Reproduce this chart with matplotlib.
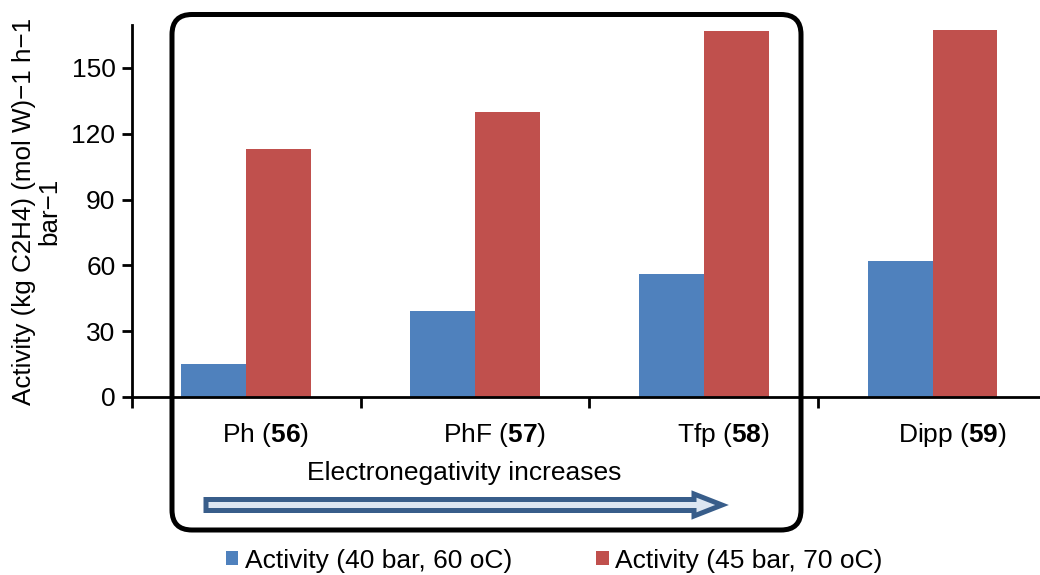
import matplotlib
matplotlib.use("Agg")
import matplotlib.pyplot as plt
from matplotlib.patches import FancyBboxPatch, FancyArrow
import numpy as np

plt.rcParams["font.family"] = ["Liberation Sans", "DejaVu Sans"]
plt.rcParams["mathtext.fontset"] = "custom"
plt.rcParams["mathtext.rm"] = "Liberation Sans"
plt.rcParams["mathtext.bf"] = "Liberation Sans:bold"

# data
ligands = ["Ph", "PhF", "Tfp", "Dipp"]
compounds = ["56", "57", "58", "59"]
act_40bar = [15, 39, 56, 62]
act_45bar = [113, 130, 167, 167.5]
series_names = ["Activity (40 bar, 60 oC)", "Activity (45 bar, 70 oC)"]
yticks = [0, 30, 60, 90, 120, 150]

blue = "#4f81bd"
red = "#c0504d"
fs = 19

fig = plt.figure(figsize=(10.4, 5.75), dpi=100)
ax = fig.add_axes([0.127, 0.3096, 0.873, 0.647])

x = np.arange(len(ligands))
w = 0.284
ax.bar(x - w / 2, act_40bar, w, color=blue, label=series_names[0])
ax.bar(x + w / 2, act_45bar, w, color=red, label=series_names[1])

ax.set_xlim(-0.5, 3.47)
ax.set_ylim(0, 169.6)
ax.set_yticks(yticks)
ax.tick_params(axis="y", labelsize=fs, length=7, width=2, pad=5, direction="out")

# boundary ticks and category labels
ax.set_xticks(list(x - 0.5))
ax.set_xticklabels([])
ax.tick_params(axis="x", which="major", length=8, width=2, direction="out")
ax.set_xticks(x + 0.085, minor=True)
ax.set_xticklabels([f"{l} ($\\mathbf{{{c}}}$)" for l, c in zip(ligands, compounds)],
                   minor=True)
ax.tick_params(axis="x", which="minor", length=0, labelsize=fs, pad=17)

for s in ["top", "right"]:
    ax.spines[s].set_visible(False)
ax.spines["left"].set_linewidth(2)
ax.spines["bottom"].set_linewidth(2)

fig.text(0.035, 0.633, "Activity (kg C2H4) (mol W)\u22121 h\u22121\nbar\u22121",
         rotation=90, ha="center", va="center", multialignment="center",
         fontsize=18.7, linespacing=1.05)

# rounded box around first three ligands (inch coordinates)
box = FancyBboxPatch((1.72, 0.45), 8.01 - 1.72, 5.605 - 0.45,
                     boxstyle="round,pad=0,rounding_size=0.2",
                     transform=fig.dpi_scale_trans, fill=False,
                     edgecolor="black", linewidth=3.6, zorder=5)
fig.patches.append(box)

fig.text(4.64 / 10.4, (5.75 - 4.73) / 5.75, "Electronegativity increases",
         ha="center", va="center", fontsize=fs)

arrow = FancyArrow(2.06, 0.70, 7.22 - 2.06 - 0.28, 0, width=0.11,
                   head_width=0.22, head_length=0.28,
                   length_includes_head=False,
                   transform=fig.dpi_scale_trans,
                   facecolor="#dce6f2", edgecolor="#385d8a", linewidth=3.6)
fig.patches.append(arrow)

fig.legend(loc="center", bbox_to_anchor=(0.533, 0.025), ncol=2, frameon=False,
           fontsize=fs, handlelength=0.46, handleheight=0.46,
           handletextpad=0.25, columnspacing=3.2, borderaxespad=0)

fig.savefig("out.png", dpi=100)
